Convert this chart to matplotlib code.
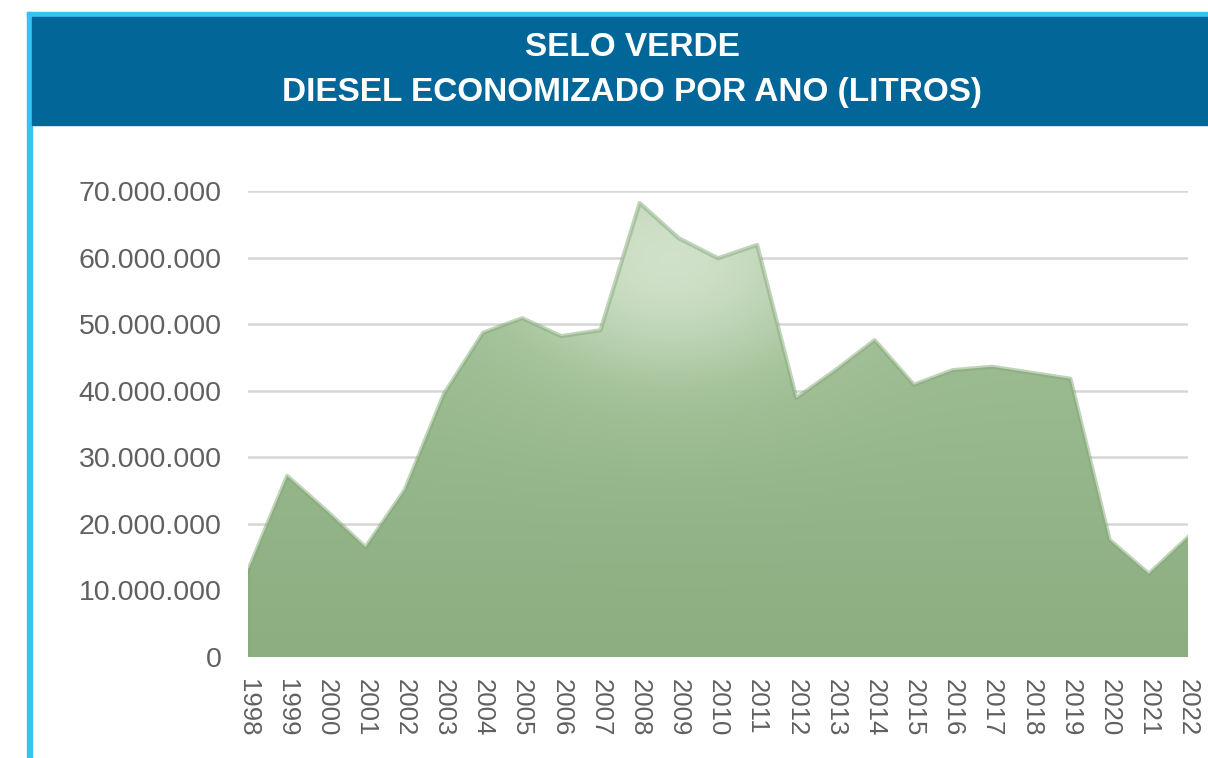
import numpy as np
from matplotlib import pyplot as plt
from matplotlib.patches import Rectangle, Polygon
from matplotlib.colors import LinearSegmentedColormap
from matplotlib.ticker import FuncFormatter

# Dados (litros de diesel economizados por ano)
anos = list(range(1998, 2023))
litros = [13.0e6, 27.2e6, 22.0e6, 16.5e6, 25.1e6, 39.5e6, 48.7e6, 50.9e6, 48.2e6,
          49.1e6, 68.2e6, 62.9e6, 59.9e6, 61.9e6, 38.9e6, 43.1e6, 47.6e6, 40.9e6,
          43.1e6, 43.6e6, 42.7e6, 41.8e6, 17.6e6, 12.5e6, 18.0e6]
marcas_y = [0, 10e6, 20e6, 30e6, 40e6, 50e6, 60e6, 70e6]
titulo = ["SELO VERDE", "DIESEL ECONOMIZADO POR ANO (LITROS)"]

cinza = "#606060"
plt.rcParams["font.family"] = ["Liberation Sans", "DejaVu Sans"]

fig = plt.figure(figsize=(12.08, 7.58), dpi=100)
W, H = 1208, 758

# Moldura azul clara e cabeçalho
fig.patches.append(Rectangle((27 / W, 0), 5 / W, 1 - 12 / H, transform=fig.transFigure,
                             color="#35c4f1", zorder=0))
fig.patches.append(Rectangle((27 / W, 1 - 17 / H), 1, 5 / H, transform=fig.transFigure,
                             color="#35c4f1", zorder=0))
fig.patches.append(Rectangle((32 / W, 1 - 125 / H), 1, 108 / H, transform=fig.transFigure,
                             color="#036699", zorder=0))
for linha, ypix in zip(titulo, [48, 93]):
    fig.text(632 / W, 1 - ypix / H, linha, ha="center", va="center", color="white",
             fontsize=24, fontweight="bold")

ax = fig.add_axes([248 / W, 1 - 657 / H, 940 / W, 466 / H])
ax.set_xlim(anos[0], anos[-1])
ax.set_ylim(0, 70e6)

# Linhas de grade
for v in marcas_y[1:]:
    ax.axhline(v, color="#d6d6d6", lw=1.8, zorder=0)

# Área com degradê
xs = np.array(anos, dtype=float)
ys = np.array(litros)
verts = [(xs[0], 0)] + list(zip(xs, ys)) + [(xs[-1], 0)]
poly = Polygon(verts, closed=True, facecolor="none", edgecolor="none")
ax.add_patch(poly)

gx, gy = np.meshgrid(np.linspace(anos[0], anos[-1], 400), np.linspace(0, 70e6, 300))
dx = (gx - 2008.8) / 5.5
dy = (gy - 58e6) / 24e6
r2 = dx ** 2 + dy ** 2
t = 0.55 + 0.45 * (1 - gy / 70e6)
t = np.clip(t - 0.6 * np.exp(-r2 * 1.6), 0, 1)
cmap = LinearSegmentedColormap.from_list("verde", ["#d2e2cb", "#a6c49c", "#8cae81"])
img = ax.imshow(t, extent=[anos[0], anos[-1], 0, 70e6], origin="lower", aspect="auto",
                cmap=cmap, vmin=0, vmax=1, zorder=1, interpolation="bilinear")
img.set_clip_path(poly)
ax.plot(xs, ys, color="#84aa79", lw=3, alpha=0.5, zorder=2, solid_joinstyle="round")
ax.plot([xs[0], xs[0]], [0, ys[0]], color="#84aa79", lw=3, alpha=0.5, zorder=2)

for s in ax.spines.values():
    s.set_visible(False)

ax.set_yticks(marcas_y)
ax.yaxis.set_major_formatter(FuncFormatter(lambda v, p: f"{int(v):,}".replace(",", ".")))
ax.set_xticks(anos)
ax.set_xticklabels([str(a) for a in anos], rotation=-90)
ax.tick_params(axis="both", length=0, colors=cinza)
ax.tick_params(axis="y", pad=19, labelsize=20.5)
ax.tick_params(axis="x", pad=16, labelsize=18.5)

fig.savefig("out.png", dpi=100)
